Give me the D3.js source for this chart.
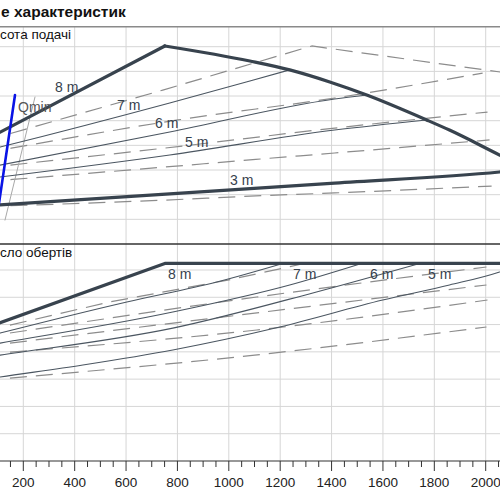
<!DOCTYPE html>
<html><head><meta charset="utf-8">
<script src="https://cdn.jsdelivr.net/npm/d3@7/dist/d3.min.js"></script>
<style>body{margin:0;background:#fff}svg{display:block;font-family:"Liberation Sans",Arial,sans-serif}</style>
</head><body>
<svg id="c" width="500" height="500"></svg>
<script>
// ---------- data ----------
const titleText = "е характеристик";
const topPanelLabel = "сота подачі";
const bottomPanelLabel = "сло обертів";
const xTickValues = [200,400,600,800,1000,1200,1400,1600,1800,2000];
const xMinorTicks = d3.range(150, 2100, 50);
const topGrid = [1,2,3,4,5,6,7,8];
const bottomGrid = [1,2,3,4,5,6,7];

// top panel – solid curves (Q, H)
const topEnvRiseQ = [60, 751];
const topEnvRiseH = [4.26, 8.03];
const topEnvFallQ = [751, 1082, 1237, 1393, 1537, 1770, 1859, 2054, 2093];
const topEnvFallH = [8.03, 7.42, 7.06, 6.57, 6.04, 5.03, 4.62, 3.61, 3.41];
const top7Q = [60, 110, 770, 1082, 1237];
const top7H = [3.80, 3.93, 5.72, 6.61, 7.06];
const top6Q = [60, 770, 1412, 1537];
const top6H = [3.10, 4.54, 5.88, 6.04];
const top5Q = [60, 770, 1412, 1770];
const top5H = [2.65, 3.61, 4.62, 5.03];
const top3Q = [60, 770, 1412, 2054, 2093];
const top3H = [1.55, 2.03, 2.47, 2.92, 2.96];
// top panel – dashed curves
const topD1Q = [150, 743, 1323, 2093];
const topD1H = [4.48, 6.24, 8.03, 6.92];
const topD2Q = [150, 802, 1412, 1988];
const topD2H = [3.88, 5.03, 5.92, 6.93];
const topD3Q = [150, 751, 1412, 2007];
const topD3H = [3.20, 3.89, 4.70, 5.35];
const topD4Q = [150, 751, 1105, 1412, 2015];
const topD4H = [2.61, 3.12, 3.43, 3.69, 4.22];
const topD5Q = [150, 751, 1105, 1412, 2023];
const topD5H = [1.55, 1.78, 1.95, 2.07, 2.35];
// Qmin line and thin guide
const qminQ = [101.6, 167.7];
const qminH = [1.38, 6.04];
const guideQ = [128.8, 245.5];
const guideH = [0.97, 5.96];

// bottom panel – solid curves (Q, n)
const botEnvQ = [60, 751, 2093];
const botEnvN = [4.90, 7.24, 7.24];
const bot7Q = [60, 110, 603, 953, 1210];
const bot7N = [4.57, 4.69, 5.83, 6.56, 7.24];
const bot6Q = [60, 110, 782, 1237, 1517];
const bot6N = [4.24, 4.32, 5.46, 6.45, 7.24];
const bot5Q = [60, 110, 782, 1327, 1743];
const bot5N = [3.81, 3.88, 4.87, 6.16, 7.24];
const bot3Q = [60, 110, 432, 782, 1198, 1599, 1859, 2054, 2143];
const bot3N = [3.01, 3.08, 3.52, 4.07, 4.91, 5.90, 6.45, 6.93, 7.24];
// bottom panel – dashed
const botD1Q = [148, 537, 996, 1276];
const botD1N = [4.98, 5.83, 6.63, 7.20];
const botD2Q = [148, 1109, 2003];
const botD2N = [4.69, 6.01, 7.11];
const botD3Q = [148, 1101, 2003];
const botD3N = [4.32, 5.42, 6.45];
const botD4Q = [148, 1109, 2007];
const botD4N = [3.99, 4.80, 5.90];
const botD5Q = [148, 1101, 2003];
const botD5N = [3.04, 3.88, 4.91];

const topCurveLabels = ["8 m", "7 m", "6 m", "5 m", "3 m"];
const botCurveLabels = ["8 m", "7 m", "6 m", "5 m"];

// ---------- layout ----------
const W = 500, H = 500;
const sepY = 26.7, midY = 244, axisY = 461;
const x = d3.scaleLinear().domain([200, 2000]).range([23.3, 485.7]);
const yT = d3.scaleLinear().domain([0, 8]).range([midY, 46.7]);
const yB = d3.scaleLinear().domain([0, 8]).range([axisY, 242.7]);
const thickCol = "#38434e", thinCol = "#4b5661", dashCol = "#8c8c8c", gridCol = "#d6d6d6";

const svg = d3.select("#c");
const defs = svg.append("defs");
defs.append("clipPath").attr("id","clipT").append("rect").attr("x",0).attr("y",sepY).attr("width",W).attr("height",midY-sepY);
defs.append("clipPath").attr("id","clipB").append("rect").attr("x",0).attr("y",midY).attr("width",W).attr("height",axisY-midY);

// grid
const grid = svg.append("g");
grid.selectAll(".v").data(xTickValues).enter().append("line")
  .attr("x1", d=>x(d)).attr("x2", d=>x(d)).attr("y1", sepY).attr("y2", axisY)
  .attr("stroke", gridCol).attr("stroke-width", 1);
grid.selectAll(".ht").data(topGrid).enter().append("line")
  .attr("x1", 0).attr("x2", W).attr("y1", d=>yT(d)).attr("y2", d=>yT(d))
  .attr("stroke", gridCol).attr("stroke-width", 1);
grid.selectAll(".hb").data(bottomGrid).enter().append("line")
  .attr("x1", 0).attr("x2", W).attr("y1", d=>yB(d)).attr("y2", d=>yB(d))
  .attr("stroke", gridCol).attr("stroke-width", 1);

function zip(q, v){ return q.map((d,i)=>[d, v[i]]); }
function drawLine(g, ys, q, v, opts){
  const gen = d3.line().x(d=>x(d[0])).y(d=>ys(d[1])).curve(opts.curve || d3.curveLinear);
  g.append("path").attr("d", gen(zip(q,v))).attr("fill","none")
    .attr("stroke", opts.color).attr("stroke-width", opts.width)
    .attr("stroke-dasharray", opts.dash || null)
    .attr("stroke-linejoin","round").attr("stroke-linecap", opts.dash ? "butt" : "round");
}
const dashOpt = {color: dashCol, width: 1.2, dash: "17,9", curve: d3.curveMonotoneX};
const dashLinOpt = {color: dashCol, width: 1.2, dash: "17,9"};
const thinOpt = {color: thinCol, width: 1.1, curve: d3.curveMonotoneX};
const thickOpt = {color: thickCol, width: 3.2};
const thickCurveOpt = {color: thickCol, width: 3.2, curve: d3.curveMonotoneX};

// top panel
const gT = svg.append("g").attr("clip-path","url(#clipT)");
drawLine(gT, yT, topD1Q, topD1H, dashLinOpt);
[[topD2Q,topD2H],[topD3Q,topD3H],[topD4Q,topD4H],[topD5Q,topD5H]]
  .forEach(([q,v])=>drawLine(gT, yT, q, v, dashOpt));
drawLine(gT, yT, guideQ, guideH, {color:"#a8a8a8", width:1});
[[top7Q,top7H],[top6Q,top6H],[top5Q,top5H]].forEach(([q,v])=>drawLine(gT, yT, q, v, thinOpt));
drawLine(gT, yT, topEnvRiseQ, topEnvRiseH, thickOpt);
drawLine(gT, yT, topEnvFallQ, topEnvFallH, thickCurveOpt);
drawLine(gT, yT, top3Q, top3H, thickCurveOpt);
drawLine(gT, yT, qminQ, qminH, {color:"#0a14e6", width:2.6});

// bottom panel
const gB = svg.append("g").attr("clip-path","url(#clipB)");
drawLine(gB, yB, botD1Q, botD1N, dashLinOpt);
[[botD2Q,botD2N],[botD3Q,botD3N],[botD4Q,botD4N],[botD5Q,botD5N]]
  .forEach(([q,v])=>drawLine(gB, yB, q, v, dashOpt));
[[bot7Q,bot7N],[bot6Q,bot6N],[bot5Q,bot5N],[bot3Q,bot3N]].forEach(([q,v])=>drawLine(gB, yB, q, v, thinOpt));
drawLine(gB, yB, botEnvQ, botEnvN, thickOpt);

// separators
svg.append("line").attr("x1",0).attr("x2",W).attr("y1",sepY).attr("y2",sepY).attr("stroke","#8a8a8a").attr("stroke-width",1.6);
svg.append("line").attr("x1",0).attr("x2",W).attr("y1",midY).attr("y2",midY).attr("stroke","#333").attr("stroke-width",1.3);

// x axis
svg.append("line").attr("x1",0).attr("x2",W).attr("y1",axisY).attr("y2",axisY).attr("stroke","#333").attr("stroke-width",1.2);
svg.selectAll(".mt").data(xMinorTicks).enter().append("line")
  .attr("x1",d=>x(d)).attr("x2",d=>x(d)).attr("y1",axisY).attr("y2",d=> d%200===0 ? axisY+10 : axisY+6)
  .attr("stroke","#333").attr("stroke-width",1);
svg.selectAll(".tl").data(xTickValues).enter().append("text")
  .attr("x",d=>x(d)).attr("y",487).attr("text-anchor","middle")
  .attr("font-size",13.5).attr("fill","#222").text(d=>d);

// titles
svg.append("text").attr("x",1).attr("y",17).attr("font-size",15.5).attr("font-weight","bold").attr("fill","#111").text(titleText);
svg.append("text").attr("x",0).attr("y",39).attr("font-size",13.5).attr("fill","#111").text(topPanelLabel);
svg.append("text").attr("x",0).attr("y",257).attr("font-size",13.5).attr("fill","#111").text(bottomPanelLabel);

// curve labels
const lblCol = "#36414c";
const topLblPos = [[55,92],[117,110],[155,128],[185,147],[230,185]];
topCurveLabels.forEach((t,i)=>svg.append("text").attr("x",topLblPos[i][0]).attr("y",topLblPos[i][1]).attr("font-size",14).attr("fill",lblCol).text(t));
svg.append("text").attr("x",18).attr("y",112).attr("font-size",14).attr("fill","#555").text("Qmin");
const botLblPos = [[168,279],[293,279],[370,279],[428,279]];
botCurveLabels.forEach((t,i)=>svg.append("text").attr("x",botLblPos[i][0]).attr("y",botLblPos[i][1]).attr("font-size",14).attr("fill",lblCol).text(t));
</script>
</body></html>
